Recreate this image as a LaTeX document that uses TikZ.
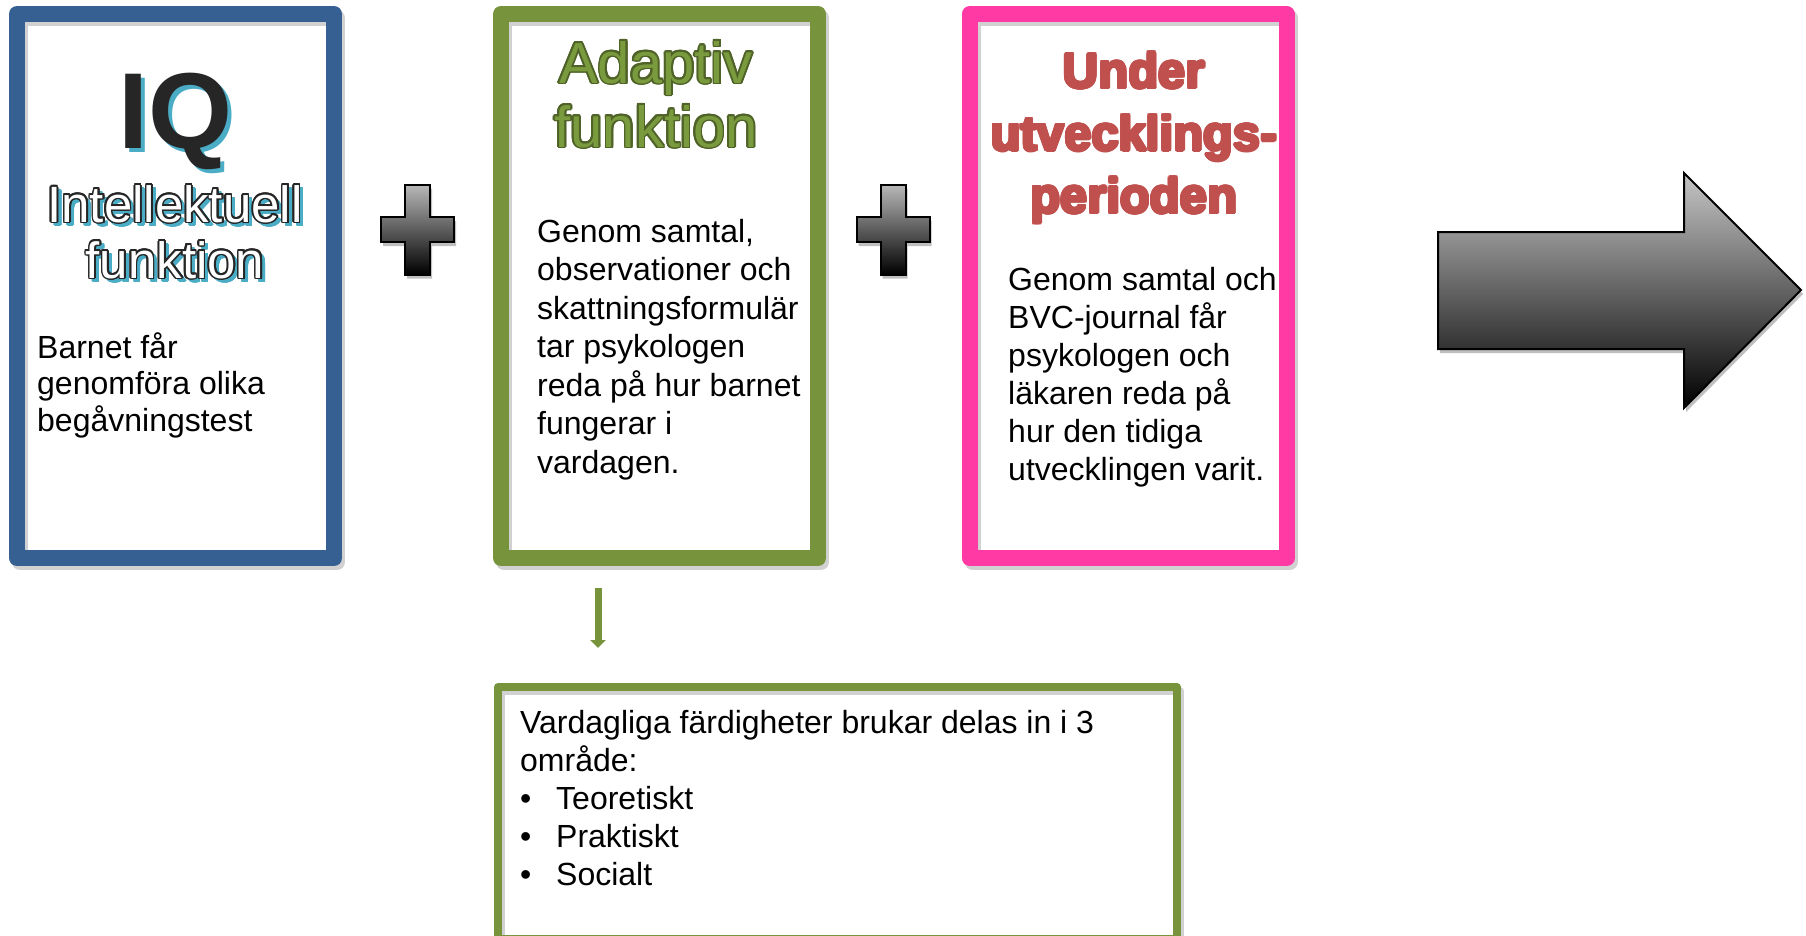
\documentclass[tikz,border=0pt]{standalone}
\usepackage{fontspec}
\setmainfont{Liberation Sans}
\usepackage[copies]{contour}
\usetikzlibrary{arrows.meta,calc}
\definecolor{frameblue}{HTML}{376092}
\definecolor{framegreen}{HTML}{77933C}
\definecolor{framepink}{HTML}{FF3AA5}
\definecolor{headred}{HTML}{C0504D}
\definecolor{headgreen}{HTML}{4F6228}
\definecolor{headgreenlight}{HTML}{7A9A3E}
\definecolor{shadowblue}{HTML}{4BACC6}
\definecolor{iqblack}{HTML}{262626}
\newcommand\fsz[2]{\fontsize{#1}{#2}\selectfont}
\newcommand\bulitem{\makebox[36pt][l]{•}}
\begin{document}
\begin{tikzpicture}[x=1pt,y=-1pt,
  boxshadow/.style={preaction={draw=black, opacity=.18, line width=#1, transform canvas={xshift=3pt,yshift=-4pt}}},
  bigframe/.style={draw=#1, line width=16pt, line join=round, inner sep=0pt, outer sep=0pt,
    minimum width=317pt, minimum height=544pt, boxshadow=16pt},
  smallframe/.style={draw=#1, line width=8pt, line join=round, inner sep=0pt, outer sep=0pt,
    minimum width=679pt, minimum height=252pt, boxshadow=8pt},
  bodytext/.style={anchor=base west, align=left, inner sep=0pt, text=black},
  headtext/.style={anchor=base, align=center, inner sep=0pt},
  flow/.style={draw=framegreen, line width=7pt, -{Triangle[width=15pt,length=8pt]}},
  plusshape/.pic={
    \fill[black, opacity=.25, xshift=2pt, yshift=-4pt]
      (-12.5,-45) -- (12.5,-45) -- (12.5,-12.5) -- (36.5,-12.5) -- (36.5,12.5) -- (12.5,12.5)
      -- (12.5,45) -- (-12.5,45) -- (-12.5,12.5) -- (-36.5,12.5) -- (-36.5,-12.5) -- (-12.5,-12.5) -- cycle;
    \shadedraw[top color=gray!55, bottom color=black, draw=black, line width=2pt]
      (-12.5,-45) -- (12.5,-45) -- (12.5,-12.5) -- (36.5,-12.5) -- (36.5,12.5) -- (12.5,12.5)
      -- (12.5,45) -- (-12.5,45) -- (-12.5,12.5) -- (-36.5,12.5) -- (-36.5,-12.5) -- (-12.5,-12.5) -- cycle;
  }]
\useasboundingbox (0,0) rectangle (1806,935);
\clip (0,0) rectangle (1806,935);

% frames
\node[bigframe=frameblue] (iqbox) at (175.5,286) {};
\node[bigframe=framegreen] (green) at (659.5,286) {};
\node[bigframe=framepink] (pink) at (1128,286) {};
\node[smallframe=framegreen] (bottom) at (837.5,813) {};

% IQ box (anchor base = baseline of the last line)
\node[headtext, text=shadowblue, font={\fsz{108}{108}\bfseries}] (iqs) at (179.5,152) {IQ};
\node[headtext, text=iqblack, font={\fsz{108}{108}\bfseries}] (iq) at (175.5,148) {IQ};
\node[headtext, text=shadowblue, font={\fsz{51}{56}}] (ifs) at (178.5,281.5) {\contourlength{1.2pt}\contour{shadowblue}{Intellektuell}\\\contourlength{1.2pt}\contour{shadowblue}{funktion}};
\node[headtext, text=white, font={\fsz{51}{56}}] (if) at (175,278) {\contourlength{1.6pt}\contour{iqblack}{Intellektuell}\\\contourlength{1.6pt}\contour{iqblack}{funktion}};
\node[bodytext, font={\fsz{32}{36.7}}] (iqbody) at (37,431.4) {Barnet får\\genomföra olika\\begåvningstest};

% Adaptive box
\node[headtext, text=headgreenlight, font={\fsz{58}{64}}] (ad) at (656,147) {\contourlength{1.8pt}\contour{headgreen}{Adaptiv}\\\contourlength{1.8pt}\contour{headgreen}{funktion}};
\node[bodytext, font={\fsz{32}{38.5}}] (adbody) at (537,473) {Genom samtal,\\observationer och\\skattningsformulär\\tar psykologen\\reda på hur barnet\\fungerar i\\vardagen.};

% Development period box
\node[headtext, text=headred, font={\fsz{49}{62.5}\bfseries}] (ud) at (1134,213) {\contourlength{1.5pt}\contour{headred}{Under}\\\contourlength{1.5pt}\contour{headred}{utvecklings-}\\\contourlength{1.5pt}\contour{headred}{perioden}};
\node[bodytext, font={\fsz{32}{38}}] (udbody) at (1008,480) {Genom samtal och\\BVC-journal får\\psykologen och\\läkaren reda på\\hur den tidiga\\utvecklingen varit.};

% bottom box
\node[bodytext, font={\fsz{32}{38}}] (btbody) at (520,885) {Vardagliga färdigheter brukar delas in i 3\\område:\\\bulitem Teoretiskt\\\bulitem Praktiskt\\\bulitem Socialt};

% plus signs
\pic at (417.5,229.5) {plusshape};
\pic at (893,229.5) {plusshape};

% big arrow
\fill[black, opacity=.25, xshift=2pt, yshift=-4pt]
  (1438,232) -- (1684,232) -- (1684,173) -- (1801,290) -- (1684,408) -- (1684,349) -- (1438,349) -- cycle;
\shadedraw[top color=gray!45, bottom color=black, draw=black, line width=2pt]
  (1438,232) -- (1684,232) -- (1684,173) -- (1801,290) -- (1684,408) -- (1684,349) -- (1438,349) -- cycle;

% small arrow
\draw[flow, shorten <=30pt, shorten >=39pt] ([xshift=-61.5pt]green.south) coordinate (s) -- (s |- bottom.north);
\end{tikzpicture}
\end{document}
